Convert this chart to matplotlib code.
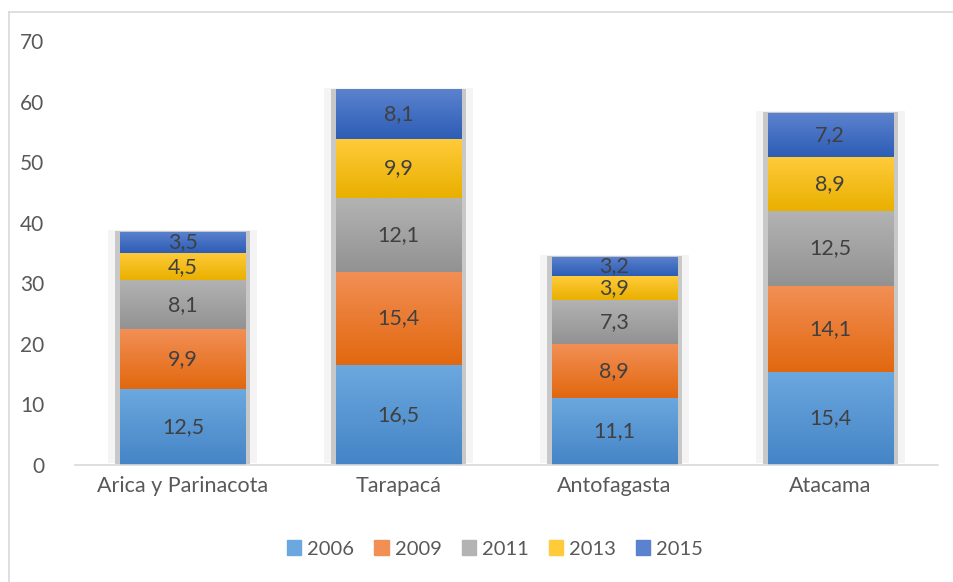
import numpy as np
import matplotlib.pyplot as plt
from matplotlib.lines import Line2D
from matplotlib.colors import LinearSegmentedColormap

plt.rcParams['font.family'] = ['Lato', 'DejaVu Sans']

# ---------------- data ----------------
regions = ['Arica y Parinacota', 'Tarapacá', 'Antofagasta', 'Atacama']
years = ['2006', '2009', '2011', '2013', '2015']
v2006 = [12.5, 16.5, 11.1, 15.4]
v2009 = [9.9, 15.4, 8.9, 14.1]
v2011 = [8.1, 12.1, 7.3, 12.5]
v2013 = [4.5, 9.9, 3.9, 8.9]
v2015 = [3.5, 8.1, 3.2, 7.2]
series = [v2006, v2009, v2011, v2013, v2015]

# (top colour, bottom colour) of each segment gradient
grad = [('#6ba8df', '#4584c6'),
        ('#f28f55', '#e2680f'),
        ('#b3b3b3', '#929292'),
        ('#ffcb3a', '#e9b000'),
        ('#5b82ce', '#2d5db6')]

fig = plt.figure(figsize=(9.54, 5.82), dpi=100)
ax = fig.add_axes([75 / 954, 1 - 465 / 582, 863 / 954, 424 / 582])

x = np.arange(len(regions))
width = 0.58
bottom = np.zeros(len(regions))

for vals, (c_top, c_bot), yr in zip(series, grad, years):
    vals = np.array(vals)
    # soft shadow behind each segment
    ax.bar(x, vals, width + 0.11, bottom=bottom + 0.3, color='#f4f4f4', zorder=1)
    ax.bar(x, vals, width + 0.045, bottom=bottom + 0.15, color='#c8c8c8', zorder=1.5)
    bars = ax.bar(x, vals, width, bottom=bottom, color=c_top, label=yr, zorder=2)
    cmap = LinearSegmentedColormap.from_list('g' + yr, [c_bot, c_top])
    for b in bars:
        x0, y0 = b.get_x(), b.get_y()
        im = ax.imshow(np.linspace(0, 1, 64).reshape(-1, 1), cmap=cmap,
                       extent=[x0, x0 + b.get_width(), y0, y0 + b.get_height()],
                       origin='lower', aspect='auto', zorder=2.5)
        im.set_clip_path(b)
    labels = [f'{v:.1f}'.replace('.', ',') for v in vals]
    ax.bar_label(bars, labels=labels, label_type='center', color='#404040',
                 fontsize=15.5, zorder=3)
    bottom = bottom + vals

ax.set_xlim(-0.5, len(regions) - 0.5)
ax.set_ylim(0, 70)
ax.set_yticks(range(0, 71, 10))
ax.set_xticks(x)
ax.set_xticklabels(regions)
ax.tick_params(axis='both', length=0, colors='#595959')
ax.tick_params(axis='y', pad=22, labelsize=15)
ax.tick_params(axis='x', pad=8, labelsize=15.5)
for s in ['top', 'right', 'left']:
    ax.spines[s].set_visible(False)
ax.spines['bottom'].set_color('#d9d9d9')
ax.spines['bottom'].set_linewidth(1.2)
ax.spines['bottom'].set_zorder(4)

handles = [plt.Rectangle((0, 0), 1, 1, color=g[0]) for g in grad]
fig.legend(handles, years, loc='center', bbox_to_anchor=(495 / 954, 1 - 549 / 582),
           ncol=5, frameon=False, fontsize=14.5, labelcolor='#595959',
           handlelength=0.7, handleheight=0.7, handletextpad=0.3,
           columnspacing=1.0)

# chart border (top and left edges visible)
fig.add_artist(Line2D([9 / 954, 1], [1 - 12 / 582, 1 - 12 / 582],
                      color='#d9d9d9', lw=1.2, transform=fig.transFigure))
fig.add_artist(Line2D([9 / 954, 9 / 954], [0, 1 - 12 / 582],
                      color='#d9d9d9', lw=1.2, transform=fig.transFigure))

fig.savefig('out.png', dpi=100)
